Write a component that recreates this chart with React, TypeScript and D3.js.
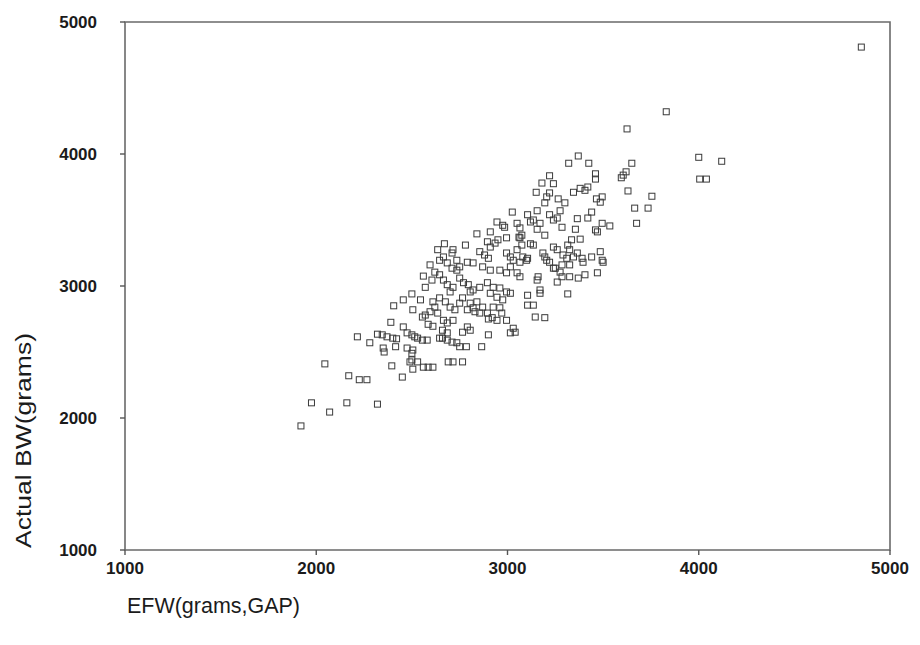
import React from 'react';
import * as d3 from 'd3';

// [EFW, actual BW] pairs, grouped by region of the cloud
const outliers: [number, number][] = [
  [4850, 4810], [3830, 4320], [3625, 4190], [4000, 3975], [4120, 3945], [4005, 3810], [4040, 3810],
];

const upperPoints: [number, number][] = [
  [3370, 3985], [3320, 3930], [3425, 3930], [3650, 3930], [3620, 3865], [3605, 3840], [3595, 3820],
  [3220, 3835], [3180, 3780], [3240, 3775], [3460, 3850], [3460, 3810], [3420, 3750], [3405, 3725],
  [3380, 3740], [3345, 3710], [3150, 3710], [3220, 3705], [3630, 3720], [3755, 3680], [3205, 3675],
  [3195, 3630], [3265, 3660], [3300, 3630], [3465, 3660], [3495, 3675], [3485, 3635], [3665, 3590],
  [3735, 3590], [3275, 3570], [3440, 3560], [3155, 3570], [3105, 3540], [3135, 3500], [3220, 3540],
  [3240, 3500], [3260, 3515], [3285, 3445], [3365, 3510], [3420, 3515], [3170, 3475], [3155, 3430],
  [3495, 3475], [3535, 3455], [3675, 3475], [3355, 3430], [3065, 3440], [3075, 3385], [3065, 3365],
  [3460, 3425], [3470, 3410], [3195, 3385], [2975, 3460], [2985, 3445], [3050, 3475], [3120, 3485],
  [2840, 3395], [2910, 3410], [3025, 3560], [2945, 3485],
];

const midPoints: [number, number][] = [
  [3335, 3350], [3380, 3355], [3315, 3310], [3120, 3320], [3135, 3310], [3485, 3260], [3495, 3195],
  [3080, 3220], [3100, 3195], [3185, 3250], [3205, 3195], [3240, 3295], [3260, 3275], [3290, 3235],
  [3325, 3275], [3310, 3210], [3285, 3160], [3345, 3220], [3390, 3210], [3440, 3220], [3240, 3135],
  [3325, 3160], [3275, 3105], [3405, 3085], [3470, 3100], [3160, 3070], [3285, 3070], [3325, 3070],
  [3500, 3180], [3395, 3180], [2995, 3365], [3060, 3370], [3075, 3310], [3050, 3275], [2895, 3335],
  [2910, 3295], [2935, 3325], [2950, 3350], [2780, 3310], [2715, 3275], [2710, 3250], [2665, 3220],
  [2645, 3195], [2855, 3260], [2880, 3235], [2900, 3210], [2995, 3250], [3015, 3220], [3030, 3195],
  [3105, 3210], [3065, 3180], [3195, 3220], [3220, 3180], [3250, 3135], [3365, 3250], [2685, 3175],
  [2710, 3135], [2735, 3120], [2750, 3145], [2735, 3195], [2790, 3180], [2820, 3175], [2870, 3145],
  [2910, 3120], [2960, 3120], [2995, 3100], [3015, 3145], [3050, 3100], [3065, 3070], [3155, 3045],
  [3260, 3030], [3370, 3060], [2645, 3085], [2665, 3045], [2685, 3010], [2750, 3060], [2770, 3025],
  [2795, 3010], [2855, 2990], [2895, 3025], [2925, 2990], [2960, 2985], [2595, 3160], [2620, 3105],
  [2605, 3045], [2560, 3075], [2570, 2990], [2635, 3275], [2670, 3320],
];

const lowerCore: [number, number][] = [
  [2715, 2990], [2700, 2955], [2805, 2955], [2820, 2970], [2995, 2955], [3015, 2945], [2910, 2945],
  [2945, 2915], [2975, 2895], [3170, 2970], [3170, 2945], [3105, 2930], [3135, 2855], [3105, 2855],
  [3315, 2940], [2645, 2910], [2675, 2880], [2700, 2840], [2725, 2820], [2750, 2870], [2765, 2910],
  [2805, 2870], [2820, 2835], [2840, 2880], [2870, 2840], [2855, 2795], [2895, 2795], [2920, 2760],
  [2925, 2840], [2960, 2835], [2970, 2795], [2945, 2740], [2995, 2740], [3145, 2765], [3195, 2760],
  [2665, 2740], [2685, 2720], [2715, 2740], [2660, 2665], [2685, 2645], [2790, 2690], [2805, 2665],
  [2765, 2650], [2900, 2630], [3030, 2680], [3040, 2650], [3015, 2645], [2645, 2605], [2790, 2820],
  [2830, 2805], [2900, 2750], [2610, 2880], [2545, 2895], [2500, 2940], [2405, 2850], [2505, 2820],
  [2455, 2895], [2555, 2765], [2570, 2780], [2595, 2805], [2620, 2840], [2635, 2795], [2585, 2710],
  [2610, 2695], [2390, 2725], [2455, 2690], [2320, 2635], [2345, 2630], [2370, 2615], [2400, 2605],
  [2420, 2600], [2475, 2645], [2500, 2630], [2515, 2615], [2530, 2605], [2555, 2590], [2580, 2590],
  [2660, 2605], [2685, 2590], [2710, 2575], [2735, 2570],
];

const lowTail: [number, number][] = [
  [2280, 2570], [2350, 2530], [2355, 2500], [2415, 2540], [2475, 2530], [2505, 2515], [2500, 2490],
  [2500, 2440], [2490, 2425], [2530, 2425], [2560, 2385], [2585, 2385], [2610, 2385], [2505, 2370],
  [2395, 2395], [2450, 2310], [2225, 2290], [2265, 2290], [2320, 2105], [2750, 2540], [2785, 2540],
  [2865, 2540], [2690, 2425], [2715, 2425], [2765, 2425], [1920, 1940], [1975, 2115], [2070, 2045],
  [2160, 2115], [2045, 2410], [2170, 2320], [2215, 2615],
];

const xTicks = [1000, 2000, 3000, 4000, 5000];
const yTicks = [1000, 2000, 3000, 4000, 5000];
const xTitle = 'EFW(grams,GAP)';
const yTitle = 'Actual BW(grams)';

const W = 920;
const H = 645;
const margin = { top: 22, right: 30, bottom: 95, left: 125 };

export default function App() {
  const x = d3.scaleLinear().domain([1000, 5000]).range([margin.left, W - margin.right]);
  const y = d3.scaleLinear().domain([1000, 5000]).range([H - margin.bottom, margin.top]);
  const all = [...outliers, ...upperPoints, ...midPoints, ...lowerCore, ...lowTail];
  const font = "'Liberation Sans', Arial, sans-serif";
  const x0 = x(1000), x1 = x(5000), y0 = y(1000), y1 = y(5000);
  const s = 6;

  return (
    <div style={{ position: 'absolute', left: 0, top: 0 }}>
      <svg width={W} height={H} style={{ display: 'block', background: '#fff' }}>
        {/* frame */}
        <path d={`M${x0},${y1}H${x1}V${y0}H${x0}Z`} fill="none" stroke="#6a6a6a" strokeWidth={1.6} />

        {/* y axis */}
        {yTicks.map(t => (
          <g key={'y' + t}>
            <line x1={x0 - 5} x2={x0} y1={y(t)} y2={y(t)} stroke="#555" strokeWidth={1.4} />
            <text x={x0 - 28} y={y(t)} dy="0.36em" textAnchor="end" fontFamily={font}
              fontSize={17} fontWeight="bold" fill="#1b1b1b">{t}</text>
          </g>
        ))}

        {/* x axis */}
        {xTicks.map(t => (
          <g key={'x' + t}>
            <line x1={x(t)} x2={x(t)} y1={y0} y2={y0 + 5} stroke="#555" strokeWidth={1.4} />
            <text x={x(t)} y={y0 + 24} textAnchor="middle" fontFamily={font}
              fontSize={17} fontWeight="bold" fill="#1b1b1b">{t}</text>
          </g>
        ))}

        {/* points */}
        {all.map(([ex, bw], i) => (
          <rect key={i} x={x(ex) - s / 2} y={y(bw) - s / 2} width={s} height={s}
            fill="none" stroke="#3a3a3a" strokeWidth={1} />
        ))}

        {/* titles */}
        <text x={127} y={613} fontFamily={font} fontSize={22} fill="#1b1b1b"
          textLength={173} lengthAdjust="spacingAndGlyphs">{xTitle}</text>
        <text transform={`translate(31,548) rotate(-90)`} fontFamily={font} fontSize={22}
          fill="#1b1b1b" textLength={215} lengthAdjust="spacingAndGlyphs">{yTitle}</text>
      </svg>
    </div>
  );
}
